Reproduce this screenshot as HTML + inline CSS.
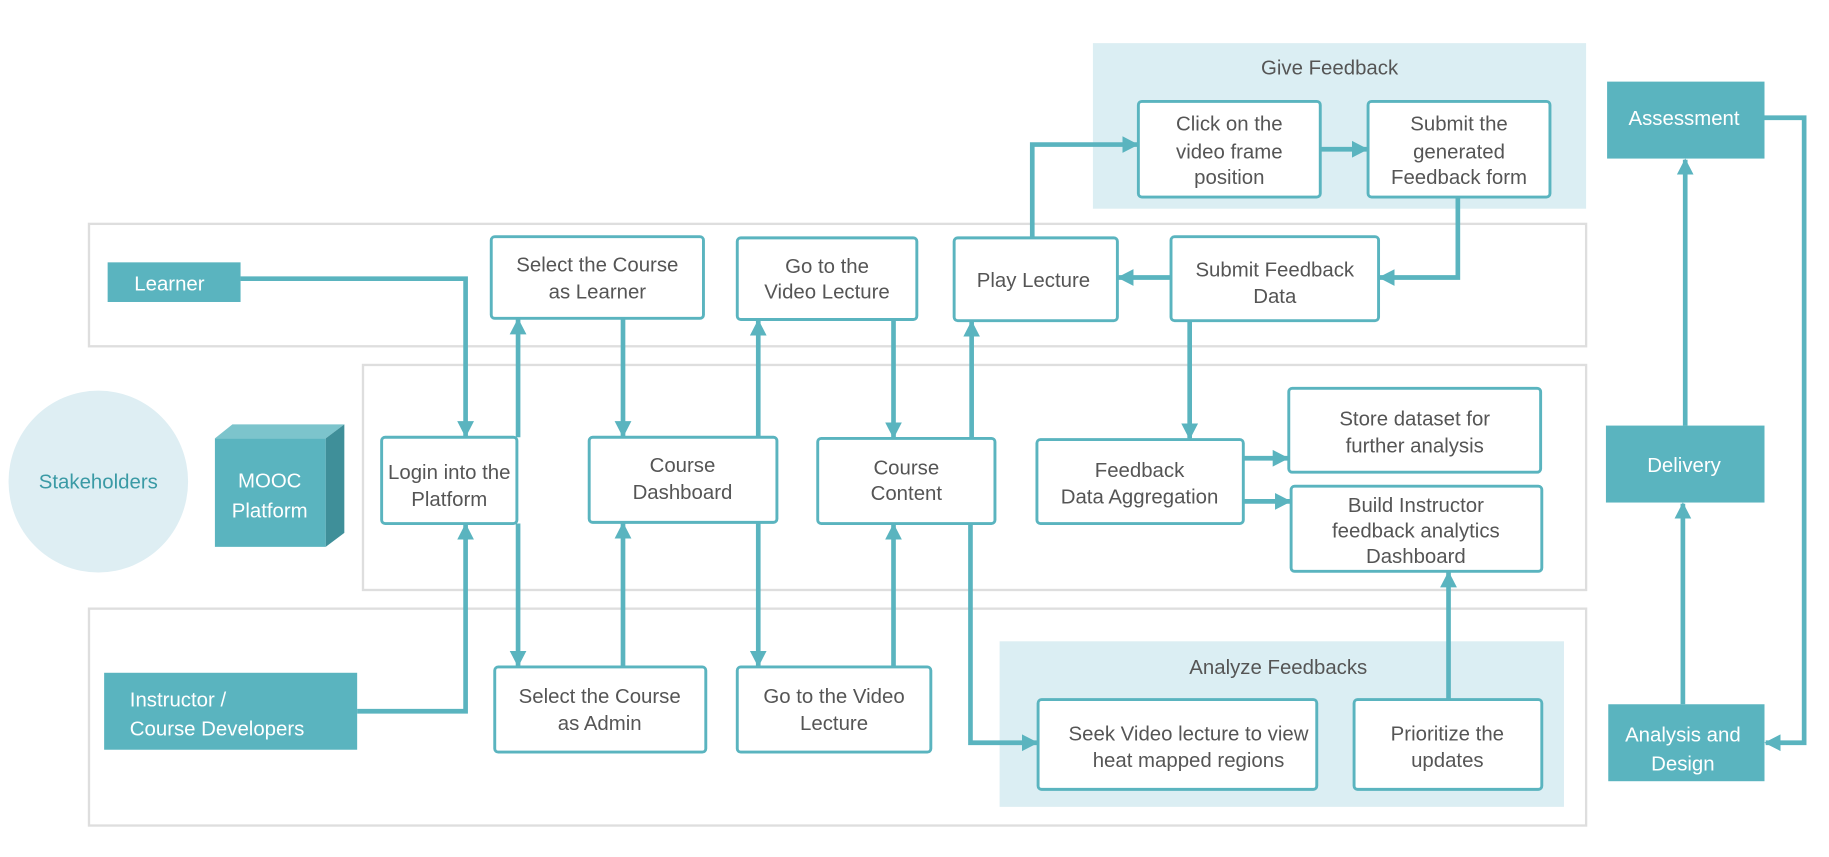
<!DOCTYPE html>
<html><head><meta charset="utf-8"><style>
html,body{margin:0;padding:0;background:#fff;}
svg{display:block;}
text{font-family:"Liberation Sans",sans-serif;font-size:17.5px;fill:#555;text-anchor:middle;}
.w{fill:#fff;}
.bx{fill:#fff;stroke:#5ab4bf;stroke-width:2.5;}
.lane{fill:#fff;stroke:#dedede;stroke-width:2;}
.f{fill:#5ab4bf;}
.a{fill:none;stroke:#5ab4bf;stroke-width:4;marker-end:url(#ah);}
</style></head><body>
<svg width="1829" height="857" viewBox="0 0 1568 735" xmlns="http://www.w3.org/2000/svg">
<defs><marker id="ah" markerWidth="4" markerHeight="4" refX="3.2" refY="2" orient="auto" markerUnits="strokeWidth"><path d="M0,0.2 L3.5,2 L0,3.8 Z" fill="#5ab4bf"/></marker></defs>
<rect class="lane" x="76" y="192" width="1284" height="105"/>
<rect class="lane" x="311" y="313" width="1049" height="193"/>
<rect class="lane" x="76" y="522" width="1284" height="186"/>
<rect x="937" y="37" width="423" height="142" fill="#dbeef3"/>
<text x="1140" y="64">Give Feedback</text>
<rect x="857" y="550" width="484" height="142" fill="#dbeef3"/>
<text x="1096" y="578">Analyze Feedbacks</text>
<ellipse cx="84" cy="413" rx="77" ry="78" fill="#deeef3"/>
<text x="84" y="419" style="fill:#3a9aa5">Stakeholders</text>
<polygon points="184,376 199,364 295,364 279,376" fill="#7cc4cc"/>
<polygon points="279,376 295,364 295,457 279,469" fill="#3f8f99"/>
<rect x="184" y="376" width="95" height="93" class="f"/>
<text class="w" x="231" y="418">MOOC</text><text class="w" x="231" y="444">Platform</text>
<rect class="f" x="92" y="225" width="114" height="34"/><text class="w" x="145" y="249">Learner</text>
<rect class="f" x="89" y="577" width="217" height="66"/><text class="w" x="111" y="606" style="text-anchor:start">Instructor /</text><text class="w" x="111" y="631" style="text-anchor:start">Course Developers</text>
<rect class="f" x="1378" y="70" width="135" height="66"/><text class="w" x="1444" y="107">Assessment</text>
<rect class="f" x="1377" y="365" width="136" height="66"/><text class="w" x="1444" y="405">Delivery</text>
<rect class="f" x="1379" y="604" width="134" height="66"/><text class="w" x="1443" y="636">Analysis and</text><text class="w" x="1443" y="661">Design</text>
<rect class="bx" x="976" y="87" width="156" height="82" rx="3"/><text x="1054" y="112">Click on the</text><text x="1054" y="136">video frame</text><text x="1054" y="158">position</text>
<rect class="bx" x="1173" y="87" width="156" height="82" rx="3"/><text x="1251" y="112">Submit the</text><text x="1251" y="136">generated</text><text x="1251" y="158">Feedback form</text>
<rect class="bx" x="421" y="203" width="182" height="70" rx="3"/><text x="512" y="233">Select the Course</text><text x="512" y="256">as Learner</text>
<rect class="bx" x="632" y="204" width="154" height="70" rx="3"/><text x="709" y="234">Go to the</text><text x="709" y="256">Video Lecture</text>
<rect class="bx" x="818" y="204" width="140" height="71" rx="3"/><text x="886" y="246">Play Lecture</text>
<rect class="bx" x="1004" y="203" width="178" height="72" rx="3"/><text x="1093" y="237">Submit Feedback</text><text x="1093" y="260">Data</text>
<rect class="bx" x="327" y="375" width="116" height="74" rx="3"/><text x="385" y="411">Login into the</text><text x="385" y="434">Platform</text>
<rect class="bx" x="505" y="375" width="161" height="73" rx="3"/><text x="585" y="405">Course</text><text x="585" y="428">Dashboard</text>
<rect class="bx" x="701" y="376" width="152" height="73" rx="3"/><text x="777" y="407">Course</text><text x="777" y="429">Content</text>
<rect class="bx" x="889" y="377" width="177" height="72" rx="3"/><text x="977" y="409">Feedback</text><text x="977" y="432">Data Aggregation</text>
<rect class="bx" x="1105" y="333" width="216" height="72" rx="3"/><text x="1213" y="365">Store dataset for</text><text x="1213" y="388">further analysis</text>
<rect class="bx" x="1107" y="417" width="215" height="73" rx="3"/><text x="1214" y="439">Build Instructor</text><text x="1214" y="461">feedback analytics</text><text x="1214" y="483">Dashboard</text>
<rect class="bx" x="424" y="572" width="181" height="73" rx="3"/><text x="514" y="603">Select the Course</text><text x="514" y="626">as Admin</text>
<rect class="bx" x="632" y="572" width="166" height="73" rx="3"/><text x="715" y="603">Go to the Video</text><text x="715" y="626">Lecture</text>
<rect class="bx" x="890" y="600" width="239" height="77" rx="3"/><text x="1019" y="635">Seek Video lecture to view</text><text x="1019" y="658">heat mapped regions</text>
<rect class="bx" x="1161" y="600" width="161" height="77" rx="3"/><text x="1241" y="635">Prioritize the</text><text x="1241" y="658">updates</text>
<path class="a" d="M206,239 H399 V374"/>
<path class="a" d="M444,375 V274"/>
<path class="a" d="M534,273 V374"/>
<path class="a" d="M650,375 V275"/>
<path class="a" d="M766,274 V375"/>
<path class="a" d="M833,376 V276"/>
<path class="a" d="M885,204 V124 H975"/>
<path class="a" d="M1132,128 H1172"/>
<path class="a" d="M1250,169 V238 H1183"/>
<path class="a" d="M1004,238 H959"/>
<path class="a" d="M1020,275 V376"/>
<path class="a" d="M1066,393 H1104"/>
<path class="a" d="M1066,430 H1106"/>
<path class="a" d="M306,610 H399 V450"/>
<path class="a" d="M444,449 V571"/>
<path class="a" d="M534,572 V449"/>
<path class="a" d="M650,448 V571"/>
<path class="a" d="M766,572 V450"/>
<path class="a" d="M832,449 V637 H889"/>
<path class="a" d="M1242,600 V491"/>
<path class="a" d="M1443,604 V432"/>
<path class="a" d="M1445,365 V137"/>
<path class="a" d="M1513,101 H1547 V637 H1514"/>
</svg>
</body></html>
